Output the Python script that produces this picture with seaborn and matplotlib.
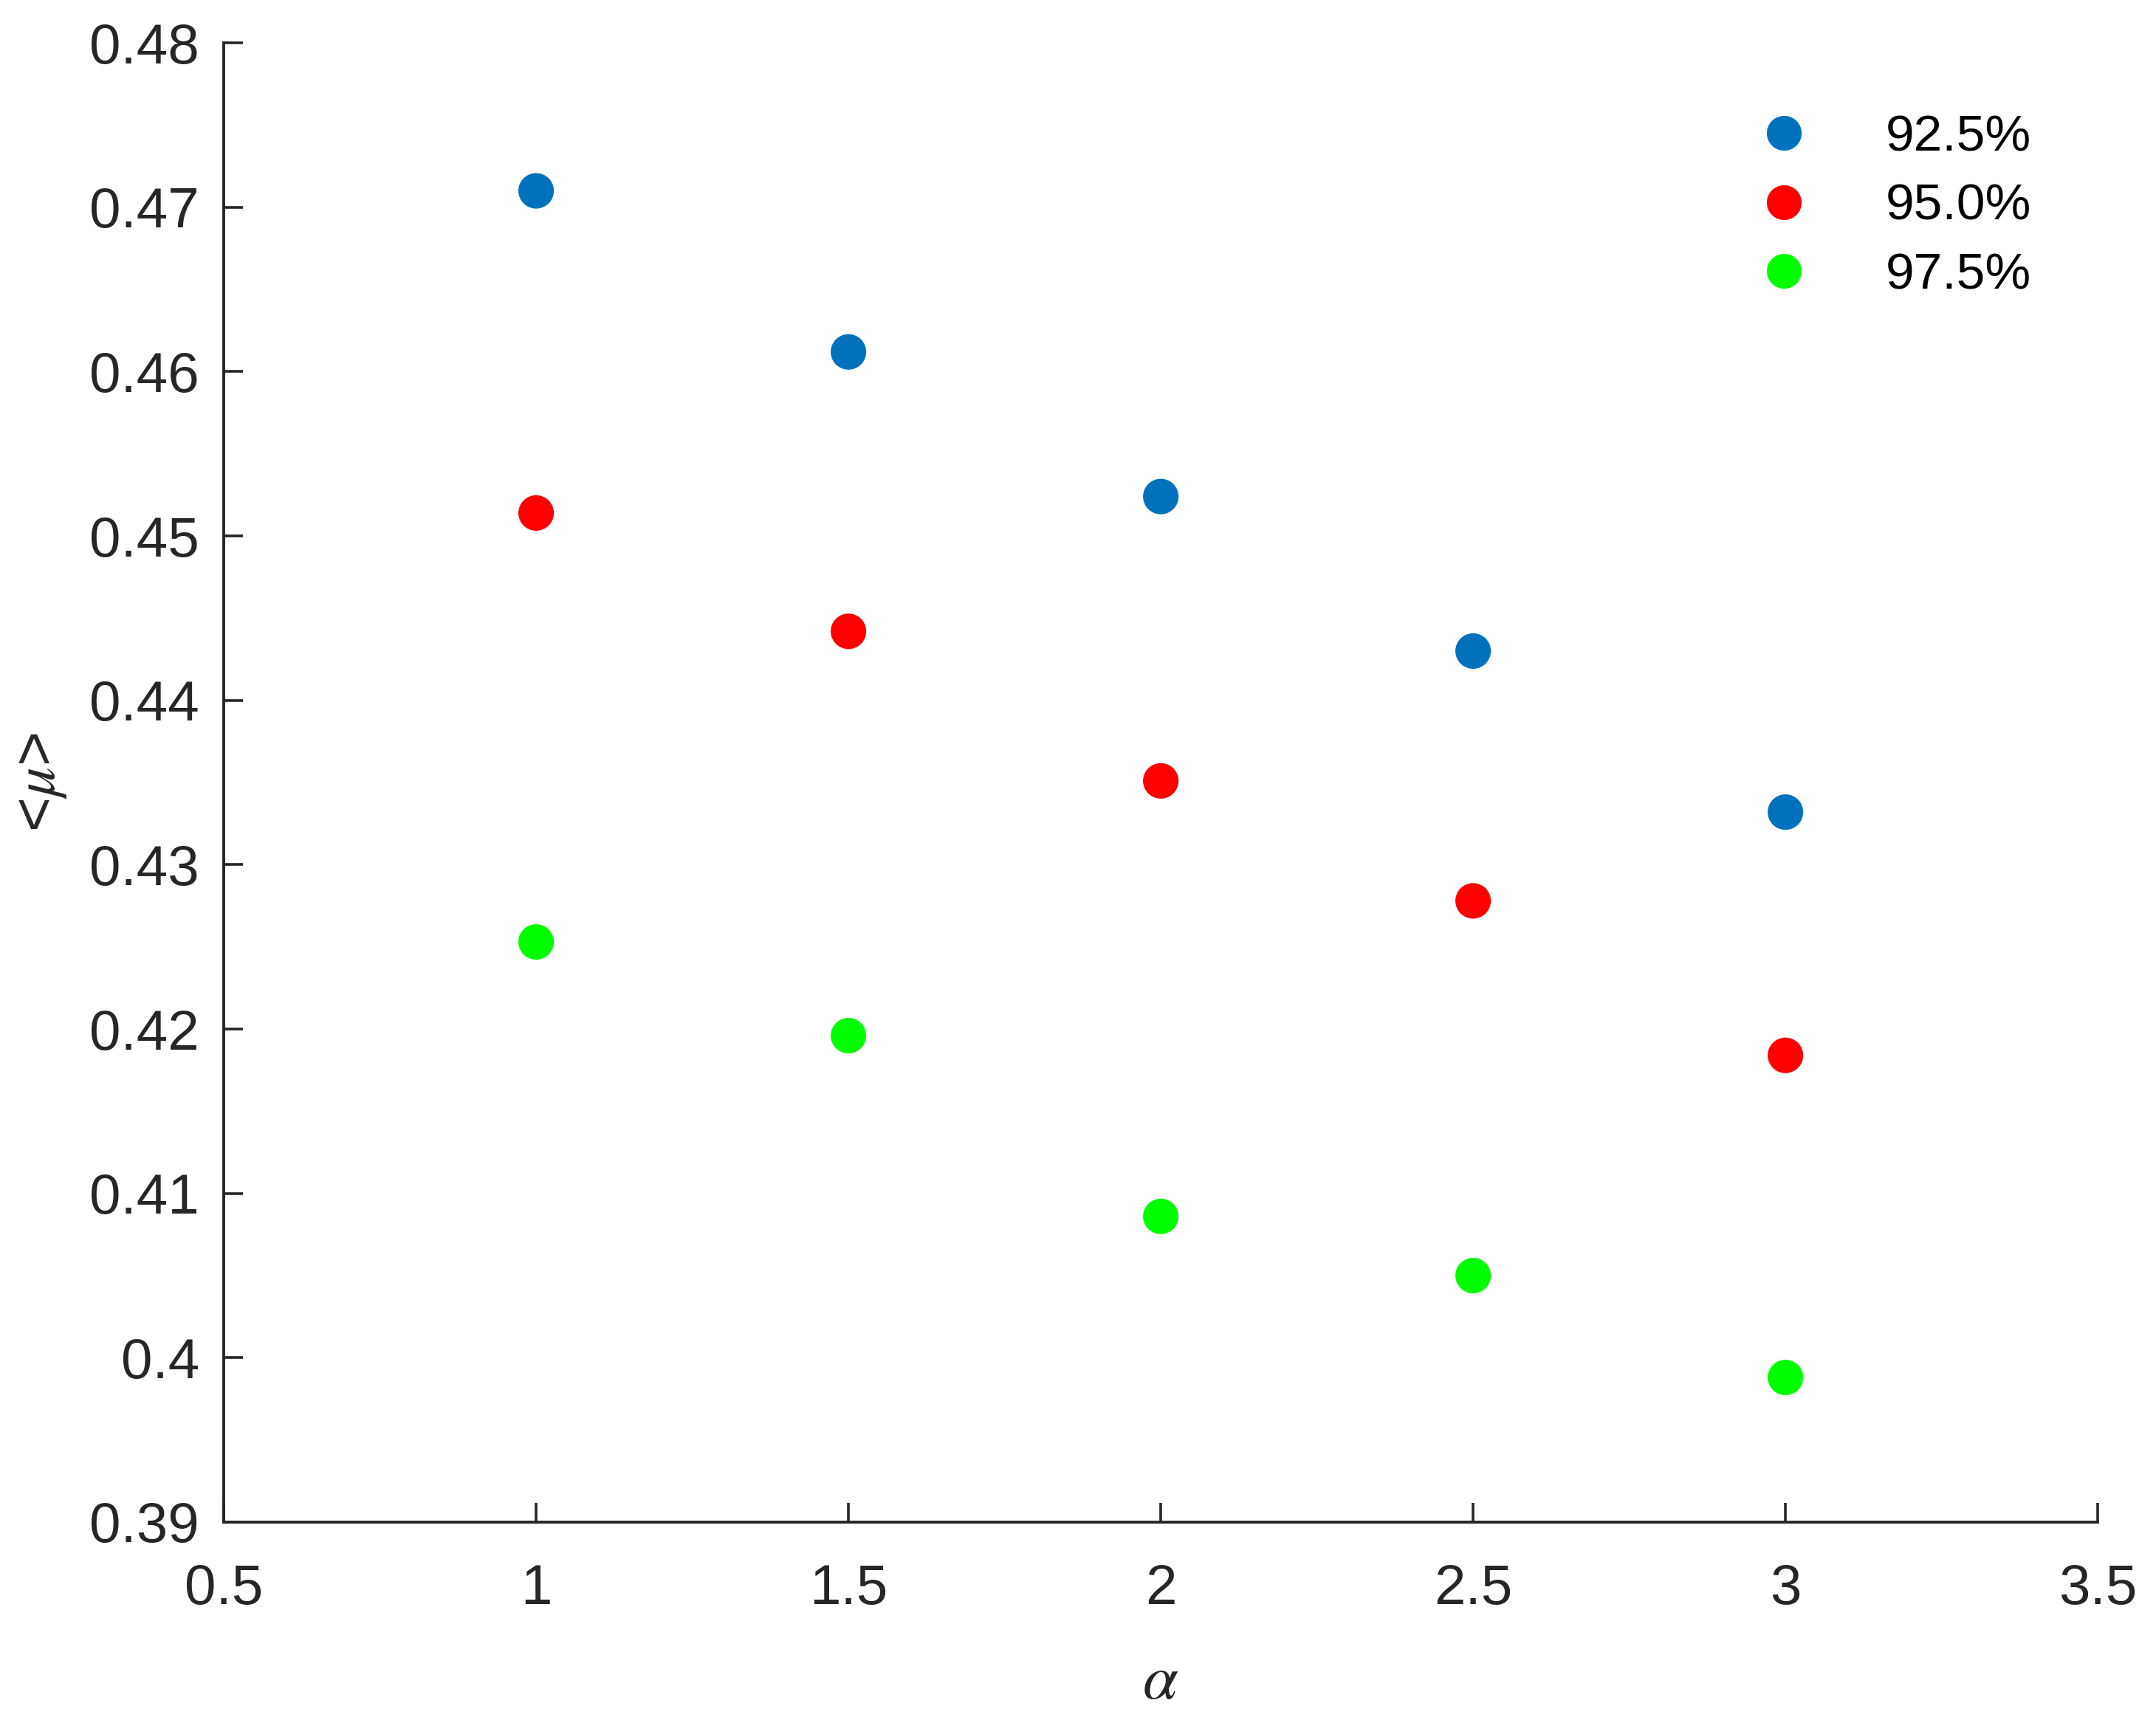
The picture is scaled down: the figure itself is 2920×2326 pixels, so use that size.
import seaborn as sns
import matplotlib.pyplot as plt
import pandas as pd

# values
alpha = [1.0, 1.5, 2.0, 2.5, 3.0]
mu_925 = [0.4710, 0.4612, 0.4524, 0.4430, 0.4332]
mu_950 = [0.4514, 0.4442, 0.4351, 0.4278, 0.4184]
mu_975 = [0.4253, 0.4196, 0.4086, 0.4050, 0.3988]
levels = ["92.5%", "95.0%", "97.5%"]
colors = ["#0072BD", "#FF0000", "#00FF00"]

df = pd.DataFrame({
    "alpha": alpha * 3,
    "mu": mu_925 + mu_950 + mu_975,
    "level": [levels[0]] * 5 + [levels[1]] * 5 + [levels[2]] * 5,
})

sns.set_style("ticks")
plt.rcParams["font.family"] = ["Liberation Sans", "DejaVu Sans"]
plt.rcParams["mathtext.fontset"] = "stix"

fig = plt.figure(figsize=(14.6, 11.63), dpi=200)
ax = fig.add_axes([0.1038, 0.1135, 0.9730 - 0.1038, 0.975 - 0.1135])

sns.scatterplot(data=df, x="alpha", y="mu", hue="level", palette=colors,
                s=300, edgecolor="none", ax=ax, zorder=3)

ax.set_xlim(0.5, 3.5)
ax.set_ylim(0.39, 0.48)
ax.set_xticks([0.5, 1, 1.5, 2, 2.5, 3, 3.5])
ax.set_xticklabels(["0.5", "1", "1.5", "2", "2.5", "3", "3.5"])
ax.set_yticks([0.39, 0.40, 0.41, 0.42, 0.43, 0.44, 0.45, 0.46, 0.47, 0.48])
ax.set_yticklabels(["0.39", "0.4", "0.41", "0.42", "0.43", "0.44", "0.45",
                    "0.46", "0.47", "0.48"])

tc = "#262626"
ax.tick_params(axis="both", direction="in", length=9.5, width=1.3,
               labelsize=27.5, colors=tc)
ax.tick_params(axis="x", pad=20)
ax.tick_params(axis="y", pad=12)
for side in ["top", "right"]:
    ax.spines[side].set_visible(False)
for side in ["left", "bottom"]:
    ax.spines[side].set_linewidth(1.4)
    ax.spines[side].set_color(tc)

ax.set_xlabel(r"$\alpha$", fontsize=31, color=tc, labelpad=18)
ax.set_ylabel(r"<$\mu$>", fontsize=29, color=tc, labelpad=10)

leg = ax.legend(title=None, frameon=False, fontsize=25, loc="upper right",
                bbox_to_anchor=(0.989, 0.983), handletextpad=0.98,
                labelspacing=0.42)
for h in leg.legend_handles:
    if hasattr(h, "set_markersize"):
        h.set_markersize(17)
    elif hasattr(h, "set_sizes"):
        h.set_sizes([300])
for t in leg.get_texts():
    t.set_color("black")

fig.savefig("out.png", dpi=200)
